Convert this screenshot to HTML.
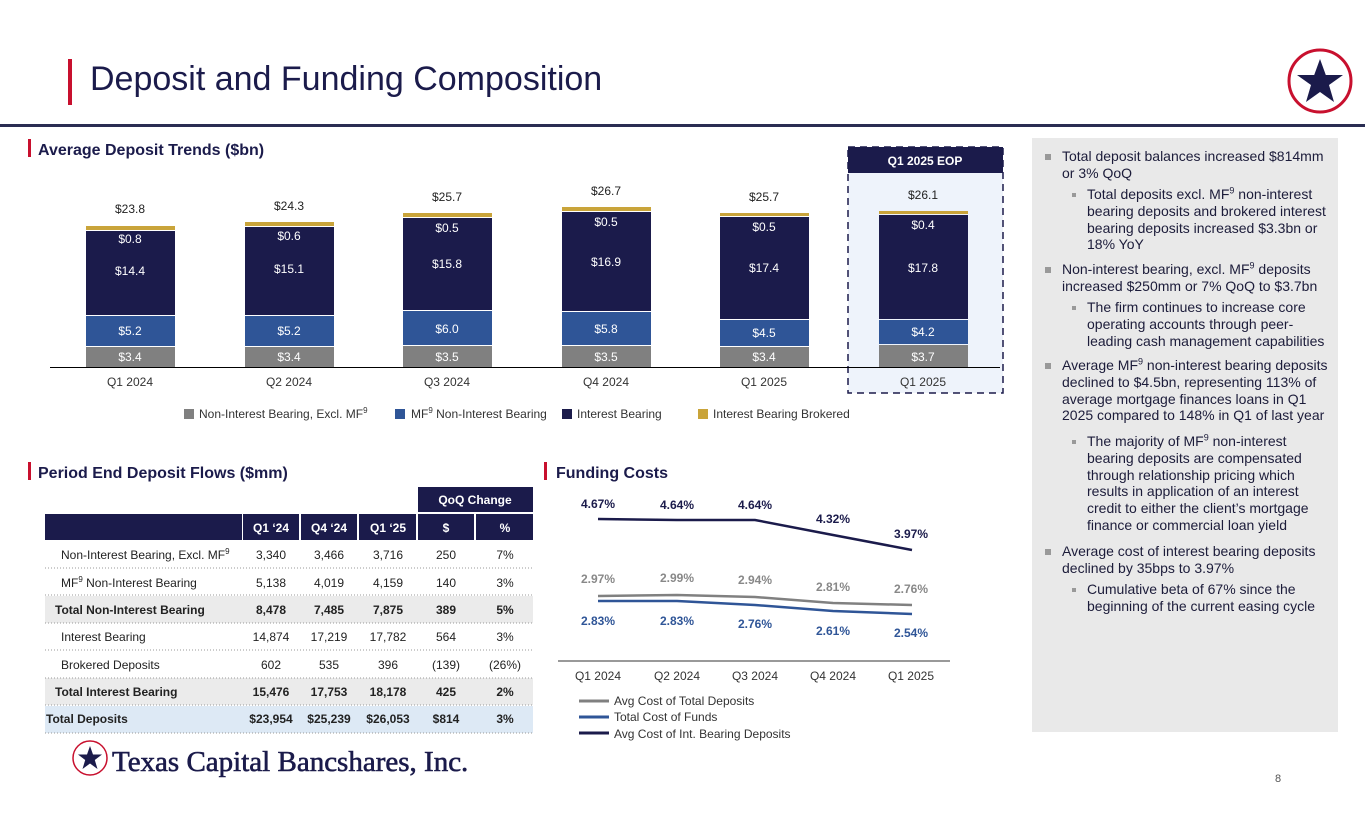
<!DOCTYPE html>
<html><head><meta charset="utf-8"><style>
body{margin:0;width:1365px;height:829px;background:#fff;font-family:"Liberation Sans",Arial,sans-serif;position:relative;overflow:hidden}
.a{position:absolute}
.rp{position:absolute;left:1032px;top:138px;width:306px;height:594px;background:#e9e9e9}
.rp p{margin:0;position:absolute;font-size:14px;line-height:16.8px;color:#1c1c3a}
.rp p:before{content:"";position:absolute;background:#999;width:6px;height:6px;left:-17px;top:6px}
.rp p.s:before{width:4px;height:4px;left:-15px;top:7px}
sup{font-size:9px;line-height:0}
</style></head><body>
<div class="a" style="left:68px;top:59px;width:4px;height:46px;background:#c8102e"></div>
<div class="a" style="left:90px;top:60px;font-size:34px;color:#1b1b4b">Deposit and Funding Composition</div>
<div class="a" style="left:0;top:124px;width:1365px;height:3px;background:#2a2d52"></div>
<svg class="a" style="left:1285px;top:46px" width="70" height="70"><circle cx="35" cy="35" r="31" fill="#fff" stroke="#c8102e" stroke-width="3"/><polygon points="35,13 40.8,29 58,29 44,39 49,56 35,46 21,56 26,39 12,29 29.2,29" fill="#1b1b4b"/></svg>

<svg class="a" style="left:0;top:0" width="1030" height="829" font-family="Liberation Sans,Arial,sans-serif">
<rect x="28" y="139" width="3" height="18" fill="#c8102e"/>
<text x="38" y="155" font-size="16" font-weight="bold" fill="#1b1b4b">Average Deposit Trends ($bn)</text>
<rect x="848" y="173" width="155" height="220" fill="#eef3fb"/>
<rect x="848" y="147" width="155" height="26" fill="#1b1b4b"/>
<text x="925" y="165" font-size="12" font-weight="bold" fill="#fff" text-anchor="middle">Q1 2025 EOP</text>
<rect x="848" y="147" width="155" height="246" fill="none" stroke="#1b1b4b" stroke-width="1.5" stroke-dasharray="7,5"/>
<line x1="50" y1="367.5" x2="1000" y2="367.5" stroke="#000" stroke-width="1"/>
<g font-size="12" text-anchor="middle">
<g>
<rect x="86" y="347" width="89" height="20" fill="#808080"/><rect x="86" y="316" width="89" height="30" fill="#2f5597"/><rect x="86" y="231" width="89" height="84" fill="#1b1b4b"/><rect x="86" y="226" width="89" height="4" fill="#c9a43a"/>
<text x="130" y="361" fill="#fff">$3.4</text><text x="130" y="335" fill="#fff">$5.2</text><text x="130" y="275" fill="#fff">$14.4</text><text x="130" y="243" fill="#fff">$0.8</text><text x="130" y="213" fill="#222">$23.8</text></g>
<g>
<rect x="245" y="347" width="89" height="20" fill="#808080"/><rect x="245" y="316" width="89" height="30" fill="#2f5597"/><rect x="245" y="227" width="89" height="88" fill="#1b1b4b"/><rect x="245" y="222" width="89" height="4" fill="#c9a43a"/>
<text x="289" y="361" fill="#fff">$3.4</text><text x="289" y="335" fill="#fff">$5.2</text><text x="289" y="273" fill="#fff">$15.1</text><text x="289" y="240" fill="#fff">$0.6</text><text x="289" y="210" fill="#222">$24.3</text></g>
<g>
<rect x="403" y="346" width="89" height="21" fill="#808080"/><rect x="403" y="311" width="89" height="34" fill="#2f5597"/><rect x="403" y="218" width="89" height="92" fill="#1b1b4b"/><rect x="403" y="213" width="89" height="4" fill="#c9a43a"/>
<text x="447" y="361" fill="#fff">$3.5</text><text x="447" y="333" fill="#fff">$6.0</text><text x="447" y="268" fill="#fff">$15.8</text><text x="447" y="232" fill="#fff">$0.5</text><text x="447" y="201" fill="#222">$25.7</text></g>
<g>
<rect x="562" y="346" width="89" height="21" fill="#808080"/><rect x="562" y="312" width="89" height="33" fill="#2f5597"/><rect x="562" y="212" width="89" height="99" fill="#1b1b4b"/><rect x="562" y="207" width="89" height="4" fill="#c9a43a"/>
<text x="606" y="361" fill="#fff">$3.5</text><text x="606" y="333" fill="#fff">$5.8</text><text x="606" y="266" fill="#fff">$16.9</text><text x="606" y="226" fill="#fff">$0.5</text><text x="606" y="195" fill="#222">$26.7</text></g>
<g>
<rect x="720" y="347" width="89" height="20" fill="#808080"/><rect x="720" y="320" width="89" height="26" fill="#2f5597"/><rect x="720" y="217" width="89" height="102" fill="#1b1b4b"/><rect x="720" y="213" width="89" height="3" fill="#c9a43a"/>
<text x="764" y="361" fill="#fff">$3.4</text><text x="764" y="337" fill="#fff">$4.5</text><text x="764" y="272" fill="#fff">$17.4</text><text x="764" y="231" fill="#fff">$0.5</text><text x="764" y="201" fill="#222">$25.7</text></g>
<g>
<rect x="879" y="345" width="89" height="22" fill="#808080"/><rect x="879" y="320" width="89" height="24" fill="#2f5597"/><rect x="879" y="215" width="89" height="104" fill="#1b1b4b"/><rect x="879" y="211" width="89" height="3" fill="#c9a43a"/>
<text x="923" y="361" fill="#fff">$3.7</text><text x="923" y="336" fill="#fff">$4.2</text><text x="923" y="272" fill="#fff">$17.8</text><text x="923" y="229" fill="#fff">$0.4</text><text x="923" y="199" fill="#222">$26.1</text></g>
<g fill="#333"><text x="130" y="386">Q1 2024</text><text x="289" y="386">Q2 2024</text><text x="447" y="386">Q3 2024</text><text x="606" y="386">Q4 2024</text><text x="764" y="386">Q1 2025</text><text x="923" y="386">Q1 2025</text></g>
</g>
<g font-size="12" fill="#333">
<rect x="184" y="409" width="10" height="10" fill="#808080"/><text x="199" y="418">Non-Interest Bearing, Excl. MF<tspan font-size="8" dy="-5">9</tspan></text>
<rect x="395" y="409" width="10" height="10" fill="#2f5597"/><text x="411" y="418">MF<tspan font-size="8" dy="-5">9</tspan><tspan dy="5"> Non-Interest Bearing</tspan></text>
<rect x="562" y="409" width="10" height="10" fill="#1b1b4b"/><text x="577" y="418">Interest Bearing</text>
<rect x="698" y="409" width="10" height="10" fill="#c9a43a"/><text x="713" y="418">Interest Bearing Brokered</text>
</g>

<rect x="28" y="462" width="3" height="18" fill="#c8102e"/>
<text x="38" y="478" font-size="16" font-weight="bold" fill="#1b1b4b">Period End Deposit Flows ($mm)</text>
<rect x="544" y="462" width="3" height="18" fill="#c8102e"/>
<text x="556" y="478" font-size="16" font-weight="bold" fill="#1b1b4b">Funding Costs</text>

<g font-size="12">
<rect x="418" y="487" width="115" height="25" fill="#1b1b4b"/>
<text x="475" y="504" fill="#fff" font-weight="bold" text-anchor="middle">QoQ Change</text>
<rect x="45" y="514" width="197" height="26" fill="#1b1b4b"/>
<rect x="243" y="514" width="56" height="26" fill="#1b1b4b"/><rect x="301" y="514" width="56" height="26" fill="#1b1b4b"/><rect x="359" y="514" width="57" height="26" fill="#1b1b4b"/><rect x="418" y="514" width="56" height="26" fill="#1b1b4b"/><rect x="476" y="514" width="57" height="26" fill="#1b1b4b"/>
<g fill="#fff" font-weight="bold" text-anchor="middle"><text x="271" y="532">Q1 ‘24</text><text x="329" y="532">Q4 ‘24</text><text x="388" y="532">Q1 ‘25</text><text x="446" y="532">$</text><text x="505" y="532">%</text></g>
<rect x="45" y="596" width="488" height="27" fill="#ebebeb"/>
<rect x="45" y="678" width="488" height="27" fill="#ebebeb"/>
<rect x="45" y="706" width="488" height="27" fill="#dde9f5"/>
<g stroke="#999" stroke-dasharray="1,2"><line x1="45" y1="568" x2="533" y2="568"/><line x1="45" y1="595" x2="533" y2="595"/><line x1="45" y1="623" x2="533" y2="623"/><line x1="45" y1="650" x2="533" y2="650"/><line x1="45" y1="678" x2="533" y2="678"/><line x1="45" y1="705" x2="533" y2="705"/><line x1="45" y1="733" x2="533" y2="733"/></g>
<g fill="#222" text-anchor="middle">
<text x="61" y="559" text-anchor="start">Non-Interest Bearing, Excl. MF<tspan font-size="8" dy="-5">9</tspan></text><text x="271" y="559">3,340</text><text x="329" y="559">3,466</text><text x="388" y="559">3,716</text><text x="446" y="559">250</text><text x="505" y="559">7%</text>
<text x="61" y="587" text-anchor="start">MF<tspan font-size="8" dy="-5">9</tspan><tspan dy="5"> Non-Interest Bearing</tspan></text><text x="271" y="587">5,138</text><text x="329" y="587">4,019</text><text x="388" y="587">4,159</text><text x="446" y="587">140</text><text x="505" y="587">3%</text>
<g font-weight="bold"><text x="55" y="614" text-anchor="start">Total Non-Interest Bearing</text><text x="271" y="614">8,478</text><text x="329" y="614">7,485</text><text x="388" y="614">7,875</text><text x="446" y="614">389</text><text x="505" y="614">5%</text></g>
<text x="61" y="641" text-anchor="start">Interest Bearing</text><text x="271" y="641">14,874</text><text x="329" y="641">17,219</text><text x="388" y="641">17,782</text><text x="446" y="641">564</text><text x="505" y="641">3%</text>
<text x="61" y="669" text-anchor="start">Brokered Deposits</text><text x="271" y="669">602</text><text x="329" y="669">535</text><text x="388" y="669">396</text><text x="446" y="669">(139)</text><text x="505" y="669">(26%)</text>
<g font-weight="bold"><text x="55" y="696" text-anchor="start">Total Interest Bearing</text><text x="271" y="696">15,476</text><text x="329" y="696">17,753</text><text x="388" y="696">18,178</text><text x="446" y="696">425</text><text x="505" y="696">2%</text>
<text x="46" y="723" text-anchor="start">Total Deposits</text><text x="271" y="723">$23,954</text><text x="329" y="723">$25,239</text><text x="388" y="723">$26,053</text><text x="446" y="723">$814</text><text x="505" y="723">3%</text></g>
</g></g>

<polyline points="598,519 677,520 755,520 833,535 912,550" fill="none" stroke="#1b1b4b" stroke-width="2.5"/>
<polyline points="598,596 677,595 755,597 833,603 912,605" fill="none" stroke="#808080" stroke-width="2.5"/>
<polyline points="598,601 677,601 755,605 833,611 912,614" fill="none" stroke="#2f5597" stroke-width="2.5"/>
<line x1="558" y1="661" x2="950" y2="661" stroke="#333"/>
<g font-size="12" font-weight="bold" text-anchor="middle">
<g fill="#1b1b4b"><text x="598" y="508">4.67%</text><text x="677" y="509">4.64%</text><text x="755" y="509">4.64%</text><text x="833" y="523">4.32%</text><text x="911" y="538">3.97%</text></g>
<g fill="#888"><text x="598" y="583">2.97%</text><text x="677" y="582">2.99%</text><text x="755" y="584">2.94%</text><text x="833" y="591">2.81%</text><text x="911" y="593">2.76%</text></g>
<g fill="#2f5597"><text x="598" y="625">2.83%</text><text x="677" y="625">2.83%</text><text x="755" y="628">2.76%</text><text x="833" y="635">2.61%</text><text x="911" y="637">2.54%</text></g>
</g>
<g font-size="12" fill="#333" text-anchor="middle"><text x="598" y="680">Q1 2024</text><text x="677" y="680">Q2 2024</text><text x="755" y="680">Q3 2024</text><text x="833" y="680">Q4 2024</text><text x="911" y="680">Q1 2025</text></g>
<g font-size="12" fill="#333">
<line x1="579" y1="701" x2="609" y2="701" stroke="#808080" stroke-width="3"/><text x="614" y="705">Avg Cost of Total Deposits</text>
<line x1="579" y1="717" x2="609" y2="717" stroke="#2f5597" stroke-width="3"/><text x="614" y="721">Total Cost of Funds</text>
<line x1="579" y1="733" x2="609" y2="733" stroke="#1b1b4b" stroke-width="3"/><text x="614" y="738">Avg Cost of Int. Bearing Deposits</text>
</g>
<circle cx="90" cy="758" r="17" fill="#fff" stroke="#c8102e" stroke-width="1.5"/>
<polygon points="90,746 93,754.5 102,754.5 94.8,760 97.5,769 90,763.5 82.5,769 85.2,760 78,754.5 87,754.5" fill="#1b1b4b"/>
<text x="112" y="771" font-family="Liberation Serif,serif" font-size="29" fill="#1b1b4b" stroke="#1b1b4b" stroke-width="0.6">Texas Capital Bancshares, Inc.</text>
</svg>

<div class="rp">
<p style="left:30px;top:10px;width:268px">Total deposit balances increased $814mm or 3% QoQ</p>
<p class="s" style="left:55px;top:48px;width:245px">Total deposits excl. MF<sup>9</sup> non-interest bearing deposits and brokered interest bearing deposits increased $3.3bn or 18% YoY</p>
<p style="left:30px;top:123px;width:270px">Non-interest bearing, excl. MF<sup>9</sup> deposits increased $250mm or 7% QoQ to $3.7bn</p>
<p class="s" style="left:55px;top:161px;width:240px">The firm continues to increase core operating accounts through peer-leading cash management capabilities</p>
<p style="left:30px;top:219px;width:270px">Average MF<sup>9</sup> non-interest bearing deposits declined to $4.5bn, representing 113% of average mortgage finances loans in Q1 2025 compared to 148% in Q1 of last year</p>
<p class="s" style="left:55px;top:295px;width:242px">The majority of MF<sup>9</sup> non-interest bearing deposits are compensated through relationship pricing which results in application of an interest credit to either the client’s mortgage finance or commercial loan yield</p>
<p style="left:30px;top:405px;width:270px">Average cost of interest bearing deposits declined by 35bps to 3.97%</p>
<p class="s" style="left:55px;top:443px;width:245px">Cumulative beta of 67% since the beginning of the current easing cycle</p>
</div>
<div class="a" style="left:1275px;top:773px;font-size:11px;color:#555">8</div>
</body></html>
